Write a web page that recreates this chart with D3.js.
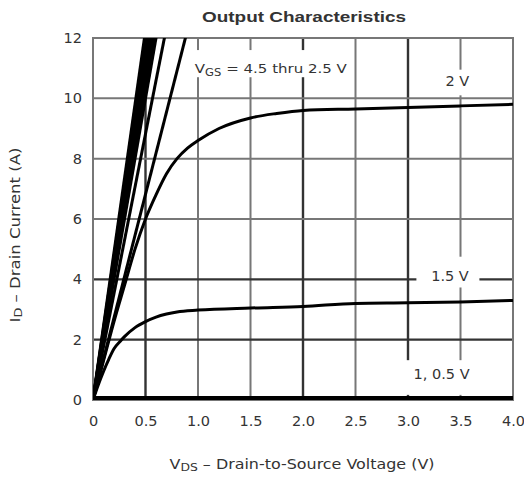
<!DOCTYPE html>
<html>
<head>
<meta charset="utf-8">
<script src="https://cdn.jsdelivr.net/npm/d3@7"></script>
<style>
  body { margin: 0; background: #fff; }
  svg { font-family: "Liberation Sans", Arial, sans-serif; }
</style>
</head>
<body>
<svg id="chart"></svg>
<script>
const width = 524;
const height = 477;
const margin = { top: 38, right: 11, bottom: 77, left: 93 };

// tick values
const xTicks = [0, 0.5, 1.0, 1.5, 2.0, 2.5, 3.0, 3.5, 4.0];
const yTicks = [0, 2, 4, 6, 8, 10, 12];
const darkX = [0.5, 2.0, 3.0]; // heavier grid lines seen in the picture
const darkY = [2, 4];

// VGS 4.5 thru 2.5 V: nearly straight lines, V_DS where each reaches 12 A
const steepEnds = [0.49, 0.505, 0.52, 0.54, 0.56, 0.58, 0.6, 0.68, 0.88];

// VGS = 2 V
const vds2 = [0, 0.1, 0.2, 0.3, 0.4, 0.5, 0.6, 0.7, 0.8, 0.9, 1.0, 1.2, 1.5, 1.75, 2.0, 2.5, 3.0, 3.5, 4.0];
const id2 = [0, 1.3, 2.6, 3.8, 5.0, 6.0, 6.8, 7.5, 8.0, 8.35, 8.6, 9.0, 9.35, 9.5, 9.6, 9.65, 9.7, 9.75, 9.8];

// VGS = 1.5 V
const vds15 = [0, 0.05, 0.1, 0.15, 0.2, 0.26, 0.3, 0.4, 0.5, 0.6, 0.7, 0.8, 1.0, 1.5, 2.0, 2.5, 3.0, 3.5, 4.0];
const id15 = [0, 0.5, 0.95, 1.35, 1.7, 1.95, 2.1, 2.4, 2.6, 2.75, 2.85, 2.92, 2.98, 3.05, 3.1, 3.2, 3.22, 3.25, 3.3];

// VGS = 1, 0.5 V
const vds1 = [0, 4.0];
const id1 = [0.03, 0.03];

const svg = d3.select("#chart").attr("width", width).attr("height", height);

const x = d3.scaleLinear().domain([0, 4]).range([margin.left, width - margin.right]);
const y = d3.scaleLinear().domain([0, 12]).range([height - margin.bottom, margin.top]);

svg.append("defs").append("clipPath").attr("id", "plot-clip")
  .append("rect")
  .attr("x", x(0)).attr("y", y(12))
  .attr("width", x(4) - x(0)).attr("height", y(0) - y(12));

// grid
const grid = svg.append("g");
grid.selectAll(".vline")
  .data(xTicks.slice(1, -1))
  .enter().append("line")
  .attr("x1", d => x(d)).attr("x2", d => x(d))
  .attr("y1", y(0)).attr("y2", y(12))
  .attr("stroke", d => darkX.includes(d) ? "#333" : "#777")
  .attr("stroke-width", d => darkX.includes(d) ? 2.4 : 2);
grid.selectAll(".hline")
  .data(yTicks.slice(1, -1))
  .enter().append("line")
  .attr("x1", x(0)).attr("x2", x(4))
  .attr("y1", d => y(d)).attr("y2", d => y(d))
  .attr("stroke", d => darkY.includes(d) ? "#333" : "#777")
  .attr("stroke-width", d => darkY.includes(d) ? 2.4 : 2);

// frame
svg.append("rect")
  .attr("x", x(0)).attr("y", y(12))
  .attr("width", x(4) - x(0)).attr("height", y(0) - y(12))
  .attr("fill", "none").attr("stroke", "#777").attr("stroke-width", 2);

// white boxes behind the curve labels, they break the grid
let addBox = (x0, y0, x1, y1) => {
  svg.append("rect")
    .attr("x", x(x0)).attr("y", y(y1))
    .attr("width", x(x1) - x(x0)).attr("height", y(y0) - y(y1))
    .attr("fill", "#fff");
};
addBox(0.92, 10.7, 2.47, 11.6);
addBox(3.3, 10.1, 3.7, 10.95);
addBox(3.08, 3.73, 3.68, 4.75);
addBox(2.95, 0.17, 3.65, 1.32);

// curves
const line = d3.line().x(d => x(d[0])).y(d => y(d[1]));
const smooth = d3.line().curve(d3.curveMonotoneX).x(d => x(d[0])).y(d => y(d[1]));
const plot = svg.append("g").attr("clip-path", "url(#plot-clip)");

plot.selectAll(".steep")
  .data(steepEnds)
  .enter().append("path")
  .attr("d", d => line([[0, 0], [d * 1.05, 12.6]]))
  .attr("fill", "none").attr("stroke", "#000").attr("stroke-width", 3);

let curve = (gen, xs, ys, w) => {
  plot.append("path")
    .attr("d", gen(xs.map((v, i) => [v, ys[i]])))
    .attr("fill", "none").attr("stroke", "#000").attr("stroke-width", w);
};
curve(smooth, vds2, id2, 3);
curve(smooth, vds15, id15, 3);
curve(line, vds1, id1, 6);

// label texts
const txt = svg.append("g").attr("fill", "#333").attr("font-size", 14.5)
  .attr("font-family", "'DejaVu Sans', sans-serif");
const vgs = txt.append("text").attr("x", x(0.97)).attr("y", y(10.85))
  .attr("textLength", 152).attr("lengthAdjust", "spacingAndGlyphs")
  .attr("font-size", 13);
vgs.append("tspan").text("V");
vgs.append("tspan").attr("font-size", 10).attr("dy", 3).text("GS");
vgs.append("tspan").attr("dy", -3).text(" = 4.5 thru 2.5 V");
txt.append("text").attr("x", x(3.47)).attr("y", y(10.4)).attr("text-anchor", "middle").text("2 V");
txt.append("text").attr("x", x(3.4)).attr("y", y(3.95)).attr("text-anchor", "middle").text("1.5 V");
txt.append("text").attr("x", x(3.32)).attr("y", y(0.7)).attr("text-anchor", "middle").text("1, 0.5 V");

// axes
const xAxis = d3.axisBottom(x).tickValues(xTicks).tickSize(0).tickPadding(16)
  .tickFormat(d => d === 0 ? "0" : d3.format(".1f")(d));
const yAxis = d3.axisLeft(y).tickValues(yTicks).tickSize(0).tickPadding(11)
  .tickFormat(d3.format("d"));

const gx = svg.append("g").attr("transform", "translate(0," + y(0) + ")").call(xAxis);
const gy = svg.append("g").attr("transform", "translate(" + x(0) + ",0)").call(yAxis);
[gx, gy].forEach(g => {
  g.select(".domain").remove();
  g.selectAll("text").attr("fill", "#333").attr("font-size", 14.5)
    .attr("font-family", "'DejaVu Sans', sans-serif");
});

// title
svg.append("text")
  .attr("x", 304).attr("y", 22)
  .attr("text-anchor", "middle")
  .attr("font-family", "'Liberation Sans', Arial, sans-serif")
  .attr("font-size", 15.5).attr("font-weight", "bold").attr("fill", "#333")
  .attr("textLength", 204).attr("lengthAdjust", "spacingAndGlyphs")
  .text("Output Characteristics");

// x title
const xt = svg.append("text")
  .attr("x", 302).attr("y", 469)
  .attr("text-anchor", "middle")
  .attr("font-family", "'DejaVu Sans', sans-serif")
  .attr("font-size", 13.5).attr("fill", "#333")
  .attr("textLength", 265).attr("lengthAdjust", "spacingAndGlyphs");
xt.append("tspan").text("V");
xt.append("tspan").attr("font-size", 10.5).attr("dy", 2).text("DS");
xt.append("tspan").attr("dy", -2).text("  \u2013  Drain-to-Source Voltage (V)");

// y title
const yt = svg.append("text")
  .attr("transform", "translate(20," + 235 + ") rotate(-90)")
  .attr("text-anchor", "middle")
  .attr("font-family", "'DejaVu Sans', sans-serif")
  .attr("font-size", 13.5).attr("fill", "#333")
  .attr("textLength", 175).attr("lengthAdjust", "spacingAndGlyphs");
yt.append("tspan").text("I");
yt.append("tspan").attr("font-size", 10.5).attr("dy", 2).text("D");
yt.append("tspan").attr("dy", -2).text("  \u2013  Drain Current (A)");
</script>
</body>
</html>
